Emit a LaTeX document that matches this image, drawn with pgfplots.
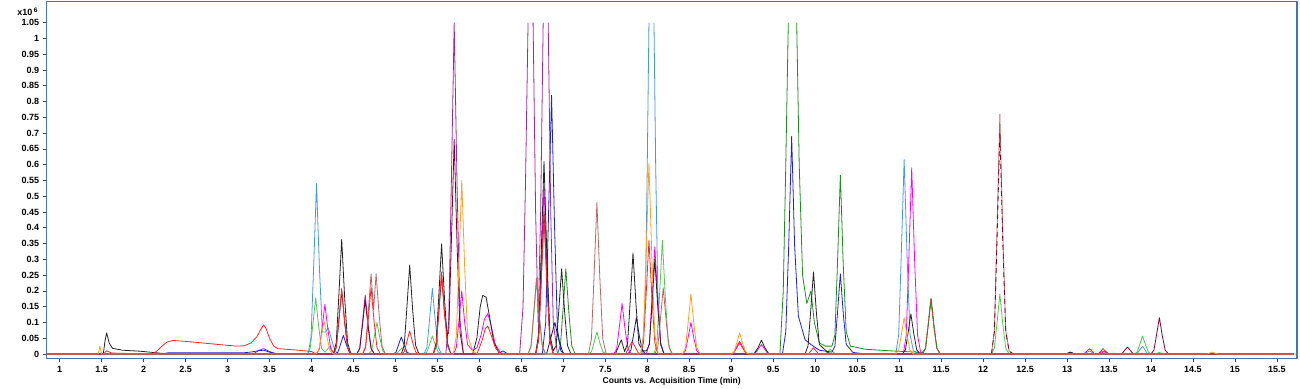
\documentclass[border=0pt]{standalone}
\usepackage{fontspec}
\setmainfont{Liberation Sans}
\usepackage{pgfplots}
\pgfplotsset{compat=1.18}
\definecolor{frm}{RGB}{68,114,196}
\definecolor{cBK}{RGB}{35,35,35}
\definecolor{cRD}{RGB}{250,40,40}
\definecolor{cSK}{RGB}{70,150,240}
\definecolor{cLM}{RGB}{80,200,80}
\definecolor{cDG}{RGB}{30,140,30}
\definecolor{cMG}{RGB}{255,0,255}
\definecolor{cPU}{RGB}{160,40,160}
\definecolor{cMR}{RGB}{128,0,40}
\definecolor{cBR}{RGB}{190,100,100}
\definecolor{cOR}{RGB}{255,160,30}
\definecolor{cBL}{RGB}{30,30,220}
\definecolor{cNV}{RGB}{20,20,120}
\begin{document}
\begin{tikzpicture}
\begin{axis}[
  at={(0,0)}, anchor=south west,
  scale only axis, width=1250pt, height=356.8pt,
  xmin=0.846, xmax=15.736, ymin=-0.0136, ymax=1.117,
  unbounded coords=jump,
  axis line style={draw=frm, line width=1.6pt},
  tick pos=left, tick align=outside,
  major tick length=4pt,
  major tick style={black!75, line width=0.6pt},
  xtick={1,1.5,2,2.5,3,3.5,4,4.5,5,5.5,6,6.5,7,7.5,8,8.5,9,9.5,10,10.5,11,11.5,12,12.5,13,13.5,14,14.5,15,15.5},
  xticklabels={1,1.5,2,2.5,3,3.5,4,4.5,5,5.5,6,6.5,7,7.5,8,8.5,9,9.5,10,10.5,11,11.5,12,12.5,13,13.5,14,14.5,15,15.5},
  ytick={0,0.05,0.1,0.15,0.2,0.25,0.3,0.35,0.4,0.45,0.5,0.55,0.6,0.65,0.7,0.75,0.8,0.85,0.9,0.95,1,1.05},
  yticklabels={0,0.05,0.1,0.15,0.2,0.25,0.3,0.35,0.4,0.45,0.5,0.55,0.6,0.65,0.7,0.75,0.8,0.85,0.9,0.95,1,1.05},
  ticklabel style={font=\fontsize{9}{10}\selectfont\bfseries},
  every axis plot/.append style={line width=0.8pt, line join=round},
]
% purple
\addplot[cPU] coordinates {(0.85,0)(3.3,0)(3.38,0.012)(3.43,0.017)(3.5,0.008)(3.58,0)
(4.54,0)(4.575,0.019)(4.605,0.094)(4.64,0.187)(4.675,0.094)(4.71,0.019)(4.75,0)
(5.6,0)(5.635,0.105)(5.665,0.525)(5.7,1.05)(5.735,0.525)(5.77,0.105)(5.81,0)
(6.48,0)(6.52,0.15)(6.55,0.55)(6.58,1.05)(6.59,nan)(6.64,1.05)(6.67,0.45)(6.7,0.1)(6.73,0.45)(6.76,1.05)(6.77,nan)(6.82,1.05)(6.85,0.45)(6.88,0.1)(6.93,0)
(13.4,0)(13.45,0.01)(13.5,0)(15.7,0)};
% sky
\addplot[cSK] coordinates {(0.85,0)(3.96,0)(3.995,0.054)(4.025,0.27)(4.06,0.54)(4.095,0.27)(4.13,0.07)(4.17,0.07)(4.2,0.083)(4.24,0.045)(4.28,0.01)(4.32,0)
(5.34,0)(5.375,0.021)(5.405,0.104)(5.44,0.208)(5.475,0.104)(5.51,0.021)(5.55,0)
(7.94,0)(7.98,0.2)(8.0,0.6)(8.02,1.05)(8.03,nan)(8.08,1.05)(8.1,0.6)(8.125,0.2)(8.16,0.03)(8.2,0)
(10.96,0)(10.995,0.062)(11.025,0.308)(11.06,0.616)(11.095,0.308)(11.13,0.062)(11.17,0.01)(11.25,0)
(13.2,0)(13.27,0.01)(13.33,0)
(13.83,0)(13.9,0.025)(13.96,0)(15.7,0)};
% dark green
\addplot[cDG] coordinates {(0.85,0)(6.93,0)(6.965,0.027)(6.995,0.135)(7.03,0.27)(7.065,0.135)(7.1,0.027)(7.14,0)
(9.58,0)(9.62,0.2)(9.65,0.6)(9.68,1.05)(9.69,nan)(9.78,1.05)(9.81,0.6)(9.85,0.25)(9.9,0.16)(9.95,0.2)(9.99,0.1)(10.05,0.035)(10.12,0.025)(10.2,0.025)(10.235,0.06)(10.265,0.28)(10.3,0.567)(10.335,0.28)(10.37,0.07)(10.42,0.025)(10.6,0.015)(10.9,0.01)(11.2,0.006)(11.28,0.005)(11.315,0.018)(11.345,0.088)(11.38,0.175)(11.415,0.088)(11.45,0.018)(11.49,0)(15.7,0)};
% lime
\addplot[cLM] coordinates {(0.85,0)(3.95,0)(3.985,0.018)(4.015,0.089)(4.05,0.178)(4.085,0.089)(4.12,0.018)(4.16,0.006)(4.22,0.025)(4.27,0)
(4.68,0)(4.715,0.01)(4.745,0.05)(4.78,0.1)(4.815,0.05)(4.85,0.01)(4.89,0)
(5.01,0)(5.08,0.02)(5.15,0)
(5.34,0)(5.375,0.006)(5.405,0.029)(5.44,0.057)(5.475,0.029)(5.51,0.006)(5.55,0)
(6.58,0)(6.615,0.023)(6.645,0.115)(6.68,0.23)(6.715,0.115)(6.75,0.023)(6.79,0)
(7.3,0)(7.335,0.007)(7.365,0.035)(7.4,0.07)(7.435,0.035)(7.47,0.007)(7.51,0)
(8.08,0)(8.115,0.036)(8.145,0.18)(8.18,0.36)(8.215,0.18)(8.25,0.036)(8.29,0)
(10.12,0)(10.18,0.015)(10.24,0)
(12.1,0)(12.135,0.019)(12.165,0.095)(12.2,0.19)(12.235,0.095)(12.27,0.019)(12.31,0)
(13.8,0)(13.835,0.006)(13.865,0.029)(13.9,0.057)(13.935,0.029)(13.97,0.006)(14.01,0)
(14.05,0)(14.1,0.005)(14.15,0)(15.7,0)};
% blue
\addplot[cBL] coordinates {(0.85,0)(2.2,0)(2.3,0.004)(3.2,0.004)(3.3,0.007)(3.38,0.011)(3.43,0.012)(3.5,0.006)(3.6,0)
(4.28,0)(4.315,0.006)(4.345,0.03)(4.38,0.059)(4.415,0.03)(4.45,0.006)(4.49,0)
(4.97,0)(5.005,0.005)(5.035,0.027)(5.07,0.054)(5.105,0.027)(5.14,0.005)(5.18,0)
(6.22,0)(6.28,0.01)(6.34,0)
(6.75,0)(6.79,0.1)(6.82,0.4)(6.86,0.82)(6.895,0.41)(6.93,0.08)(6.97,0.01)(7.02,0)
(9.61,0)(9.65,0.07)(9.685,0.345)(9.72,0.69)(9.755,0.345)(9.8,0.12)(9.88,0.045)(9.95,0.03)(10.05,0.012)(10.2,0.006)(10.235,0.025)(10.265,0.127)(10.3,0.254)(10.335,0.127)(10.37,0.03)(10.45,0.005)(10.6,0)(15.7,0)};
% navy
\addplot[cNV] coordinates {(0.85,0)(6.8,0)(6.85,0.05)(6.9,0.1)(6.94,0.05)(7.0,0)
(7.77,0)(7.805,0.012)(7.835,0.058)(7.87,0.115)(7.905,0.058)(7.94,0.012)(7.98,0)
(12.99,0)(13.04,0.006)(13.09,0)(15.7,0)};
% magenta
\addplot[cMG] coordinates {(0.85,0)(4.06,0)(4.095,0.016)(4.125,0.079)(4.16,0.157)(4.195,0.079)(4.23,0.016)(4.27,0)
(5.69,0)(5.725,0.02)(5.755,0.1)(5.79,0.2)(5.825,0.1)(5.86,0.03)(5.92,0.01)(5.97,0.02)(6.02,0.06)(6.06,0.11)(6.1,0.128)(6.14,0.09)(6.19,0.03)(6.26,0)
(6.67,0)(6.705,0.053)(6.735,0.265)(6.77,0.53)(6.805,0.265)(6.84,0.053)(6.88,0)
(7.6,0)(7.635,0.016)(7.665,0.08)(7.7,0.16)(7.735,0.08)(7.77,0.016)(7.81,0)
(7.99,0)(8.025,0.034)(8.055,0.17)(8.09,0.34)(8.125,0.17)(8.16,0.034)(8.2,0)
(8.42,0)(8.455,0.01)(8.485,0.05)(8.52,0.1)(8.555,0.05)(8.59,0.01)(8.63,0)
(9.02,0)(9.06,0.017)(9.1,0.035)(9.14,0.017)(9.18,0)
(9.28,0)(9.32,0.015)(9.36,0.03)(9.4,0.015)(9.44,0)
(11.05,0)(11.085,0.059)(11.115,0.295)(11.15,0.59)(11.185,0.295)(11.22,0.059)(11.26,0)
(13.2,0)(13.27,0.017)(13.33,0)
(13.37,0)(13.43,0.01)(13.49,0)(15.7,0)};
% black
\addplot[cBK] coordinates {(0.85,0)(1.52,0)(1.54,0.04)(1.56,0.067)(1.59,0.035)(1.63,0.018)(1.75,0.012)(1.95,0.009)(2.15,0.004)(2.3,0)
(4.26,0)(4.295,0.036)(4.325,0.18)(4.36,0.363)(4.395,0.18)(4.43,0.036)(4.47,0)
(5.07,0)(5.105,0.028)(5.135,0.141)(5.17,0.282)(5.205,0.141)(5.24,0.028)(5.28,0)
(5.45,0)(5.485,0.035)(5.515,0.175)(5.55,0.349)(5.585,0.175)(5.62,0.035)(5.66,0)
(5.92,0)(5.97,0.05)(6.01,0.15)(6.04,0.186)(6.08,0.18)(6.12,0.12)(6.17,0.04)(6.24,0)
(6.67,0)(6.705,0.061)(6.735,0.305)(6.77,0.61)(6.805,0.305)(6.84,0.061)(6.88,0.01)(6.915,0.027)(6.945,0.135)(6.98,0.27)(7.015,0.135)(7.05,0.027)(7.09,0)
(7.62,0)(7.69,0.045)(7.73,0.008)(7.765,0.032)(7.795,0.16)(7.83,0.32)(7.865,0.16)(7.9,0.032)(7.95,0.01)
(7.99,0.01)(8.025,0.03)(8.055,0.15)(8.09,0.30)(8.125,0.15)(8.16,0.03)(8.2,0)
(9.27,0)(9.32,0.02)(9.36,0.044)(9.4,0.02)(9.45,0)
(9.88,0)(9.915,0.026)(9.945,0.13)(9.98,0.26)(10.015,0.13)(10.05,0.03)(10.15,0.005)(10.2,0)
(11.04,0)(11.075,0.013)(11.105,0.064)(11.14,0.127)(11.175,0.064)(11.21,0.013)(11.25,0)
(12.99,0)(13.04,0.006)(13.09,0)(15.7,0)};
% maroon (solid part)
\addplot[cMR] coordinates {(0.85,0)(4.26,0)(4.295,0.02)(4.325,0.1)(4.36,0.2)(4.395,0.1)(4.43,0.02)(4.47,0)
(4.54,0)(4.575,0.017)(4.605,0.085)(4.64,0.17)(4.675,0.085)(4.71,0.017)(4.75,0)
(5.45,0)(5.485,0.025)(5.515,0.125)(5.55,0.25)(5.585,0.125)(5.62,0.06)(5.635,0.068)(5.665,0.34)(5.7,0.68)(5.735,0.34)(5.77,0.068)(5.81,0)
(6.67,0)(6.705,0.045)(6.735,0.225)(6.77,0.45)(6.805,0.225)(6.84,0.045)(6.88,0)
(13.65,0)(13.72,0.022)(13.79,0)
(14.0,0)(14.035,0.012)(14.065,0.058)(14.1,0.115)(14.135,0.058)(14.17,0.012)(14.21,0)(15.7,0)};
% brown
\addplot[cBR] coordinates {(0.85,0)(4.61,0)(4.645,0.025)(4.675,0.127)(4.71,0.254)(4.74,0.14)(4.77,0.254)(4.805,0.127)(4.84,0.025)(4.88,0)
(6.58,0)(6.615,0.024)(6.645,0.12)(6.68,0.24)(6.715,0.12)(6.75,0.024)(6.79,0)
(7.3,0)(7.335,0.048)(7.365,0.24)(7.4,0.48)(7.435,0.24)(7.47,0.048)(7.51,0)
(8.09,0)(8.125,0.021)(8.155,0.105)(8.19,0.21)(8.225,0.105)(8.26,0.021)(8.3,0)
(12.1,0)(12.135,0.076)(12.165,0.38)(12.2,0.76)(12.235,0.38)(12.27,0.076)(12.31,0.01)(12.36,0)(15.7,0)};
% maroon (12.2 peak, dashed over brown)
\addplot[cMR, dash pattern=on 5pt off 4pt] coordinates {(12.1,0)(12.135,0.07)(12.165,0.35)(12.2,0.70)(12.235,0.35)(12.27,0.07)(12.31,0.01)(12.36,0)};
% red
\addplot[cRD] coordinates {(0.85,0)(1.52,0)(1.56,0.01)(1.62,0.003)(2.11,0)(2.16,0.01)(2.22,0.025)(2.28,0.038)(2.35,0.043)(2.5,0.04)(2.7,0.035)(2.9,0.03)(3.1,0.025)(3.2,0.026)(3.28,0.035)(3.35,0.055)(3.4,0.08)(3.43,0.092)(3.46,0.08)(3.5,0.05)(3.55,0.025)(3.6,0.017)(3.8,0.013)(4.0,0.008)(4.05,0)
(4.26,0)(4.295,0.021)(4.325,0.104)(4.36,0.208)(4.395,0.104)(4.43,0.021)(4.47,0)
(4.61,0)(4.645,0.021)(4.675,0.105)(4.71,0.21)(4.745,0.105)(4.78,0.021)(4.82,0)
(5.07,0)(5.105,0.007)(5.135,0.037)(5.17,0.073)(5.205,0.037)(5.24,0.007)(5.28,0)
(5.45,0)(5.485,0.026)(5.515,0.13)(5.55,0.26)(5.585,0.13)(5.62,0.026)(5.66,0)
(5.97,0)(6.03,0.04)(6.07,0.08)(6.1,0.089)(6.14,0.06)(6.19,0.02)(6.25,0)
(6.67,0)(6.705,0.044)(6.735,0.22)(6.77,0.44)(6.805,0.22)(6.84,0.044)(6.88,0)
(7.74,0)(7.78,0.02)(7.82,0.04)(7.86,0.02)(7.9,0)
(7.92,0)(7.955,0.036)(7.985,0.18)(8.02,0.36)(8.055,0.18)(8.09,0.036)(8.13,0)
(9.02,0)(9.06,0.02)(9.1,0.04)(9.14,0.02)(9.18,0)
(9.92,0)(9.98,0.02)(10.04,0)
(11.28,0)(11.315,0.018)(11.345,0.088)(11.38,0.175)(11.415,0.088)(11.45,0.018)(11.49,0)
(13.37,0)(13.43,0.017)(13.49,0)(15.7,0)};
% dark green dashed over red at 11.38
\addplot[cDG, dash pattern=on 5pt off 4pt] coordinates {(11.28,0.005)(11.315,0.018)(11.345,0.088)(11.38,0.175)(11.415,0.088)(11.45,0.018)(11.49,0)};
% orange
\addplot[cOR] coordinates {(0.85,0)(1.46,0)(1.48,0.025)(1.5,0)
(4.05,0)(4.085,0.011)(4.115,0.053)(4.15,0.105)(4.185,0.053)(4.22,0.011)(4.26,0)
(5.69,0)(5.725,0.055)(5.755,0.275)(5.79,0.55)(5.825,0.275)(5.86,0.06)(5.92,0.01)(5.98,0)
(7.92,0)(7.955,0.06)(7.985,0.303)(8.02,0.605)(8.055,0.303)(8.09,0.06)(8.13,0)
(8.42,0)(8.455,0.019)(8.485,0.095)(8.52,0.19)(8.555,0.095)(8.59,0.019)(8.63,0)
(9.0,0)(9.035,0.007)(9.065,0.034)(9.1,0.067)(9.135,0.034)(9.17,0.007)(9.21,0)
(10.96,0)(10.995,0.012)(11.025,0.058)(11.06,0.115)(11.095,0.058)(11.13,0.012)(11.17,0)
(14.67,0)(14.73,0.006)(14.79,0)(15.73,0)};
\end{axis}
\node[anchor=base west, font=\fontsize{9}{10}\selectfont\bfseries, inner sep=0pt] at (-29.5pt,343pt) {x10\,\raisebox{3pt}{\fontsize{6.5}{7}\selectfont 6}};
\node[font=\fontsize{8.5}{10}\selectfont\bfseries, inner sep=0pt] at (625pt,-22.7pt) {Counts vs. Acquisition Time (min)};
\path[use as bounding box] (-46.7pt,-29.7pt) rectangle (1253.3pt,358.3pt);
\end{tikzpicture}
\end{document}
